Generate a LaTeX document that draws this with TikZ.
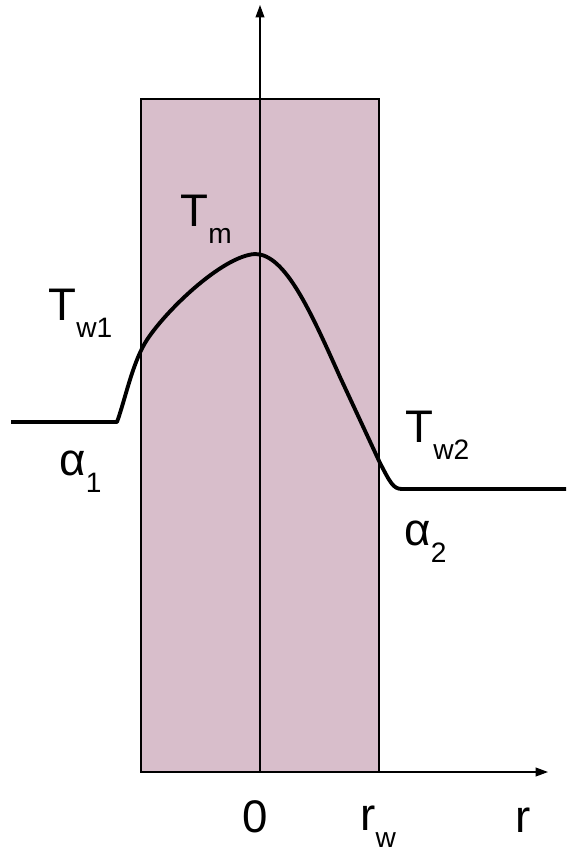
\documentclass[tikz,border=0pt]{standalone}
\usepackage{fontspec}
\setmainfont{Liberation Sans}
\usetikzlibrary{arrows.meta}

\definecolor{wallpink}{RGB}{216,190,203}
\newcommand{\sublab}[2]{#1\raisebox{-10pt}{\fontsize{16pt}{16pt}\selectfont #2}}

\begin{document}
\begin{tikzpicture}[x=0.02cm, y=-0.02cm,
    every node/.style={font=\fontsize{26pt}{26pt}\selectfont, inner sep=0pt, anchor=base west},
    axis/.style={line width=0.7pt, -{Triangle[length=7pt,width=5pt]}},
    profile/.style={line width=2.2pt, line join=round}]
                \useasboundingbox (0,0) rectangle (566,852);
                % Wand
                \draw[fill=wallpink, line width=0.8pt] (141,99) rectangle (379,772);
                % Achsen
                \coordinate (origin) at (260,772);
                \coordinate (left) at (141,772);
                \coordinate (ytip) at (260,5);
                \coordinate (xtip) at (548,772);
                \draw[axis] (origin) -- (ytip);
                \draw[axis] (left) -- (xtip);
                % Temperaturprofil
                \draw[profile] (11,422) -- (117,422)
                    .. controls (125,400) and (132,365) .. (145,343)
                    .. controls (163,313) and (222,256) .. (255,254)
                    .. controls (285,254) and (310,310) .. (340,377)
                    -- (380,463) .. controls (390,482) and (393,489) .. (402,489)
                    -- (566,489);
                % Beschriftung
                \node (tm) at (180,226) {\sublab{T}{m}};
                \node (tw1) at (48,320) {\sublab{T}{w1}};
                \node (tw2) at (405,442) {\sublab{T}{w2}};
                \node (a1) at (59,475) {\sublab{α}{1}};
                \node (a2) at (404,545) {\sublab{α}{2}};
                \node[anchor=base] (zero) at (255,832) {0};
                \node (rw) at (360,830) {\sublab{r}{w}};
                \node (rr) at (515,832) {r};
            \end{tikzpicture}
\end{document}
